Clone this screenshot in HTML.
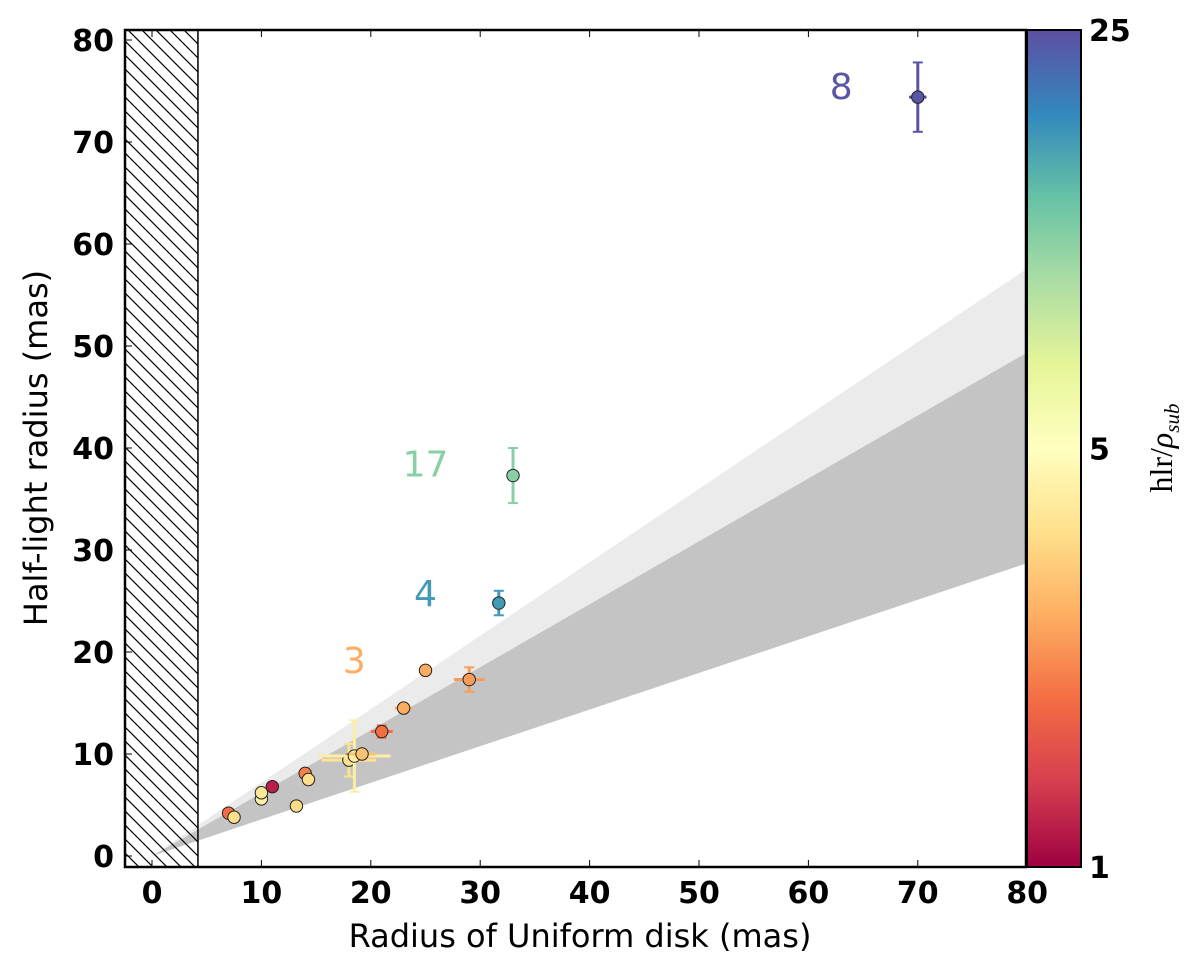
<!DOCTYPE html>
<html><head><meta charset="utf-8"><style>
body{margin:0;background:#fff}
</style></head><body>
<svg id="chart" width="1200" height="961" xmlns="http://www.w3.org/2000/svg" font-family="DejaVu Sans, Liberation Sans, sans-serif">
<defs>
<pattern id="hatch" patternUnits="userSpaceOnUse" width="14" height="14">
<path d="M-4,-4 L18,18 M-4,10 L4,18 M10,-4 L18,4" stroke="#000" stroke-width="1.2"/>
</pattern>
<linearGradient id="cmap" x1="0" y1="1" x2="0" y2="0">
<stop offset="0" stop-color="#9e0142"/><stop offset="0.1" stop-color="#d53e4f"/><stop offset="0.2" stop-color="#f46d43"/><stop offset="0.3" stop-color="#fdae61"/><stop offset="0.4" stop-color="#fee08b"/><stop offset="0.5" stop-color="#ffffbf"/><stop offset="0.6" stop-color="#e6f598"/><stop offset="0.7" stop-color="#abdda4"/><stop offset="0.8" stop-color="#66c2a5"/><stop offset="0.9" stop-color="#3288bd"/><stop offset="1" stop-color="#5e4fa2"/>
</linearGradient>
<clipPath id="clip"><rect x="125" y="30" width="902" height="837"/></clipPath>
</defs>
<g id="plot" clip-path="url(#clip)"></g>
<g id="over"></g>
</svg>
<script>
const xs=[7,7.5,10,10,11,13.2,14,14.3,18,18.5,19.2,21,23,25,29,31.7,33,70];
const ys=[4.2,3.8,5.6,6.2,6.8,4.9,8.1,7.5,9.4,9.8,10,12.2,14.5,18.2,17.3,24.8,37.3,74.4];
const xerr=[0,0,0,0,0,0,0,0,2.5,3.3,1.2,1,0.8,0,1.4,0.6,0,0.8];
const yerr=[0,0,0,0,0,0,0,0,1.6,3.5,0.5,0.6,0,0,1.2,1.2,2.7,3.4];
const ratio=[1.9,3.6,4.3,3.9,1.17,3.5,2.1,3.6,3.7,4.2,3.0,1.9,2.6,2.6,2.4,16.4,11.2,24];
const xTicks=[0,10,20,30,40,50,60,70,80];
const yTicks=[0,10,20,30,40,50,60,70,80];
const cbTicks=[1,5,25];
const slopes=[0.72,0.617,0.359];
const labels=[["8",63,75.5],["17",25,38.5],["4",25,25.8],["3",18.5,19.2]];
const labelRatio=[24,11.2,16.4,2.6];

const X=v=>152+v*10.94, Y=v=>856-v*10.2;
const NS="http://www.w3.org/2000/svg";
const svg=document.getElementById('chart'),plot=document.getElementById('plot'),over=document.getElementById('over');
function mk(t,a,p){const e=document.createElementNS(NS,t);for(const k in a)e.setAttribute(k,a[k]);(p||svg).appendChild(e);return e;}
const stops=["#9e0142","#d53e4f","#f46d43","#fdae61","#fee08b","#ffffbf","#e6f598","#abdda4","#66c2a5","#3288bd","#5e4fa2"];
function hex(h){return [1,3,5].map(i=>parseInt(h.substr(i,2),16));}
function cmap(r){let t=Math.log(r)/Math.log(25);t=Math.max(0,Math.min(1,t))*10;const i=Math.min(9,Math.floor(t)),f=t-i;const a=hex(stops[i]),b=hex(stops[i+1]);return `rgb(${a.map((v,k)=>Math.round(v+(b[k]-v)*f)).join(',')})`;}

let e;
e=mk('polygon',{points:`${X(0)},${Y(0)} ${X(82)},${Y(82*slopes[0])} ${X(82)},${Y(82*slopes[2])}`,fill:'#ebebeb'},plot);

e=mk('polygon',{points:`${X(0)},${Y(0)} ${X(82)},${Y(82*slopes[1])} ${X(82)},${Y(82*slopes[2])}`,fill:'#c4c4c4'},plot);

e=mk('rect',{x:125,y:30,width:X(4.2)-125,height:837,fill:'url(#hatch)',stroke:'#000','stroke-width':1.5},plot);


xs.forEach((x,i)=>{
 const c=cmap(ratio[i]);
 const g=mk('g',{},plot);
 
 if(xerr[i]>0){mk('line',{x1:X(x-xerr[i]),x2:X(x+xerr[i]),y1:Y(ys[i]),y2:Y(ys[i]),stroke:c,'stroke-width':3},g);}
 if(yerr[i]>0){mk('line',{x1:X(x),x2:X(x),y1:Y(ys[i]-yerr[i]),y2:Y(ys[i]+yerr[i]),stroke:c,'stroke-width':3},g);
  [ys[i]-yerr[i],ys[i]+yerr[i]].forEach(v=>mk('line',{x1:X(x)-5,x2:X(x)+5,y1:Y(v),y2:Y(v),stroke:c,'stroke-width':2},g));}
 mk('circle',{cx:X(x),cy:Y(ys[i]),r:6.2,fill:c,stroke:'#222','stroke-width':1},g);
});
labels.forEach((l,i)=>{e=mk('text',{x:X(l[1]),y:Y(l[2])+13,'font-size':36,fill:cmap(labelRatio[i]),'text-anchor':'middle'},over);e.textContent=l[0];
 });

e=mk('rect',{x:125,y:30,width:901,height:837,fill:'none',stroke:'#000','stroke-width':2.5},over);

xTicks.forEach(v=>{mk('line',{x1:X(v),x2:X(v),y1:867,y2:860,stroke:'#000','stroke-width':1},over);mk('line',{x1:X(v),x2:X(v),y1:30,y2:37,stroke:'#000','stroke-width':1},over);
 e=mk('text',{x:X(v),y:903,'font-size':30,'font-weight':'bold','text-anchor':'middle'},over);e.textContent=v;
 });
yTicks.forEach(v=>{mk('line',{x1:125,x2:132,y1:Y(v),y2:Y(v),stroke:'#000','stroke-width':1},over);
 e=mk('text',{x:114,y:Y(v)+11,'font-size':30,'font-weight':'bold','text-anchor':'end'},over);e.textContent=v;
 });
e=mk('text',{x:580,y:947,'font-size':32,'text-anchor':'middle'},over);e.textContent='Radius of Uniform disk (mas)';

e=mk('text',{x:47,y:448,'font-size':32,'text-anchor':'middle',transform:'rotate(-90 47 448)'},over);e.textContent='Half-light radius (mas)';


e=mk('rect',{x:1027,y:30,width:54,height:837,fill:'url(#cmap)',stroke:'#000','stroke-width':2},over);

cbTicks.forEach(v=>{const y=867-837*Math.log(v)/Math.log(25);
 e=mk('text',{x:1089,y:y+11,'font-size':30,'font-weight':'bold'},over);e.textContent=v;
 });
e=mk('text',{x:1172,y:448,'font-size':32,'text-anchor':'middle',transform:'rotate(-90 1172 448)','font-family':'Liberation Serif, serif'},over);
e.innerHTML='hlr/<tspan font-style="italic">ρ</tspan><tspan font-style="italic" font-size="21" dy="7">sub</tspan>';

</script>
</body></html>
